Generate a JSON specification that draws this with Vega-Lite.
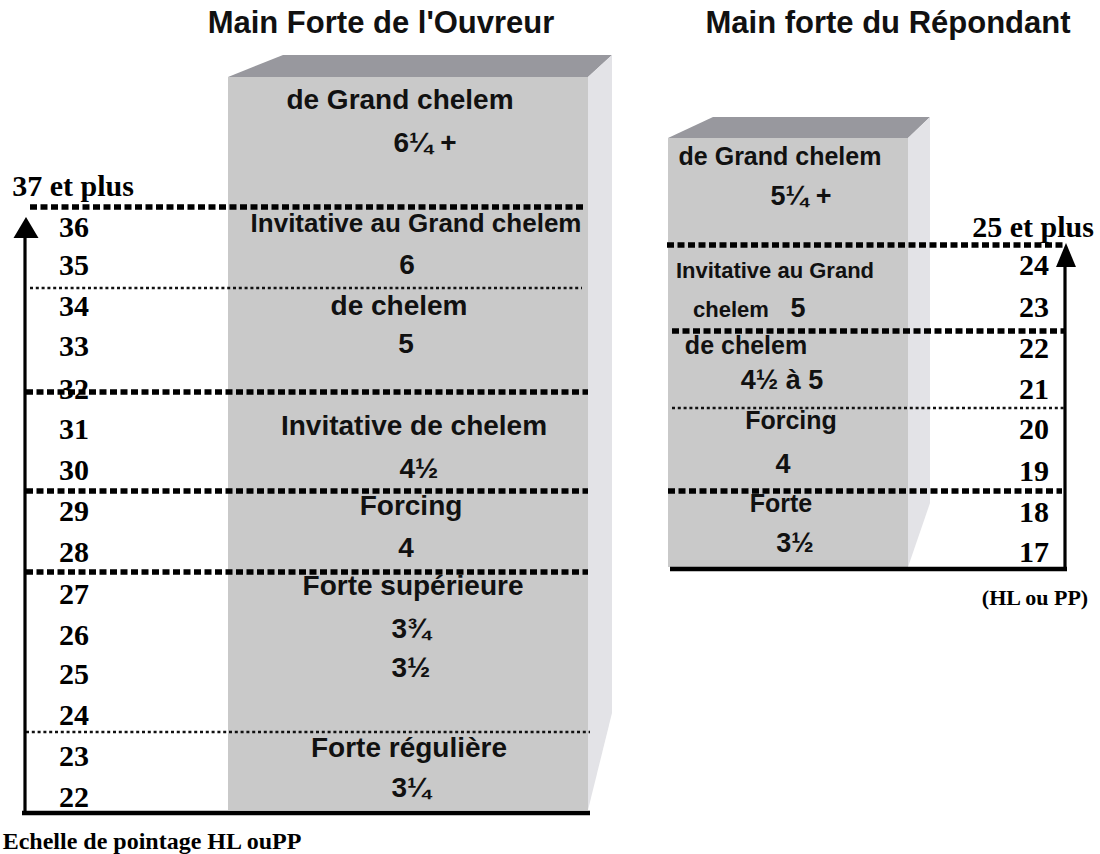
{
  "$schema": "https://vega.github.io/schema/vega-lite/v6.json",
  "width": 1100,
  "height": 854,
  "padding": 0,
  "autosize": {"type": "fit", "contains": "padding"},
  "background": "white",
  "config": {"view": {"stroke": null}},
  "datasets": {
    "faces": [
      {"box": "Ouvreur", "x": 228, "x2": 588, "y": 77, "y2": 810},
      {"box": "Répondant", "x": 668, "x2": 908, "y": 138, "y2": 567}
    ],
    "tops": [
      {"box": "Ouvreur", "x": 228, "y": 77, "y2": 77},
      {"box": "Ouvreur", "x": 283, "y": 55, "y2": 77},
      {"box": "Ouvreur", "x": 588, "y": 55, "y2": 77},
      {"box": "Ouvreur", "x": 612, "y": 55, "y2": 55},
      {"box": "Répondant", "x": 668, "y": 138, "y2": 138},
      {"box": "Répondant", "x": 713, "y": 117, "y2": 138},
      {"box": "Répondant", "x": 908, "y": 117, "y2": 138},
      {"box": "Répondant", "x": 930, "y": 117, "y2": 117}
    ],
    "sides": [
      {"box": "Ouvreur", "y": 55, "x": 612, "x2": 612},
      {"box": "Ouvreur", "y": 77, "x": 588, "x2": 612},
      {"box": "Ouvreur", "y": 713, "x": 588, "x2": 612},
      {"box": "Ouvreur", "y": 810, "x": 588, "x2": 588},
      {"box": "Répondant", "y": 117, "x": 930, "x2": 930},
      {"box": "Répondant", "y": 138, "x": 908, "x2": 930},
      {"box": "Répondant", "y": 503, "x": 908, "x2": 930},
      {"box": "Répondant", "y": 567, "x": 908, "x2": 908}
    ],
    "bounds": [
      {"kind": "major", "y": 207, "x": 30, "x2": 585},
      {"kind": "minor", "y": 288, "x": 30, "x2": 582},
      {"kind": "major", "y": 392, "x": 26, "x2": 588},
      {"kind": "major", "y": 491, "x": 26, "x2": 588},
      {"kind": "major", "y": 572, "x": 26, "x2": 588},
      {"kind": "minor", "y": 732, "x": 26, "x2": 590},
      {"kind": "major", "y": 245, "x": 667, "x2": 1063},
      {"kind": "major", "y": 331, "x": 672, "x2": 1065},
      {"kind": "minor", "y": 408, "x": 672, "x2": 1065},
      {"kind": "major", "y": 491, "x": 668, "x2": 1062}
    ],
    "axes": [
      {"kind": "vertical", "x": 25, "x2": 25, "y": 235, "y2": 813},
      {"kind": "base", "x": 22, "x2": 590, "y": 813, "y2": 813},
      {"kind": "vertical", "x": 1065, "x2": 1065, "y": 258, "y2": 569},
      {"kind": "base", "x": 670, "x2": 1067, "y": 569, "y2": 569}
    ],
    "arrows": [
      {"side": "left", "x": 26, "y": 227.5},
      {"side": "right", "x": 1066, "y": 255}
    ],
    "texts": [
      {"role": "title", "label": "Main Forte de l'Ouvreur", "x": 381, "y": 24},
      {"role": "title", "label": "Main forte du Répondant", "x": 888, "y": 24},
      {"role": "labelL", "label": "de Grand chelem", "x": 400, "y": 101},
      {"role": "labelL", "label": "6¼ +", "x": 425, "y": 144},
      {"role": "labelLSmall", "label": "Invitative au Grand chelem", "x": 416, "y": 224},
      {"role": "labelL", "label": "6", "x": 407, "y": 266},
      {"role": "labelL", "label": "de chelem", "x": 399, "y": 307},
      {"role": "labelL", "label": "5", "x": 406, "y": 345},
      {"role": "labelL", "label": "Invitative de chelem", "x": 414, "y": 427},
      {"role": "labelL", "label": "4½", "x": 419, "y": 470},
      {"role": "labelL", "label": "Forcing", "x": 411, "y": 507},
      {"role": "labelL", "label": "4", "x": 406, "y": 549},
      {"role": "labelL", "label": "Forte supérieure", "x": 413, "y": 587},
      {"role": "labelL", "label": "3¾", "x": 411, "y": 630},
      {"role": "labelL", "label": "3½", "x": 411, "y": 669},
      {"role": "labelL", "label": "Forte régulière", "x": 409, "y": 749},
      {"role": "labelL", "label": "3¼", "x": 411, "y": 789},
      {"role": "labelR", "label": "de Grand chelem", "x": 780, "y": 157},
      {"role": "valueR", "label": "5¼ +", "x": 801, "y": 197},
      {"role": "labelRSmall", "label": "Invitative au Grand", "x": 775, "y": 271},
      {"role": "labelRSmall", "label": "chelem", "x": 731, "y": 310},
      {"role": "valueR", "label": "5", "x": 798, "y": 309},
      {"role": "labelR", "label": "de chelem", "x": 746, "y": 346},
      {"role": "valueR", "label": "4½ à 5", "x": 782, "y": 381},
      {"role": "labelR", "label": "Forcing", "x": 791, "y": 421},
      {"role": "valueR", "label": "4", "x": 783, "y": 465},
      {"role": "labelR", "label": "Forte", "x": 781, "y": 504},
      {"role": "valueR", "label": "3½", "x": 795, "y": 544},
      {"role": "num", "label": "37 et plus", "x": 73, "y": 187},
      {"role": "num", "label": "36", "x": 74, "y": 228},
      {"role": "num", "label": "35", "x": 74, "y": 266},
      {"role": "num", "label": "34", "x": 74, "y": 307},
      {"role": "num", "label": "33", "x": 74, "y": 347},
      {"role": "num", "label": "32", "x": 74, "y": 390},
      {"role": "num", "label": "31", "x": 74, "y": 430},
      {"role": "num", "label": "30", "x": 74, "y": 471},
      {"role": "num", "label": "29", "x": 74, "y": 512},
      {"role": "num", "label": "28", "x": 74, "y": 553},
      {"role": "num", "label": "27", "x": 74, "y": 595},
      {"role": "num", "label": "26", "x": 74, "y": 636},
      {"role": "num", "label": "25", "x": 74, "y": 675},
      {"role": "num", "label": "24", "x": 74, "y": 716},
      {"role": "num", "label": "23", "x": 74, "y": 757},
      {"role": "num", "label": "22", "x": 74, "y": 798},
      {"role": "num", "label": "25 et plus", "x": 1033, "y": 228},
      {"role": "num", "label": "24", "x": 1034, "y": 266},
      {"role": "num", "label": "23", "x": 1034, "y": 308},
      {"role": "num", "label": "22", "x": 1034, "y": 349},
      {"role": "num", "label": "21", "x": 1034, "y": 390},
      {"role": "num", "label": "20", "x": 1034, "y": 430},
      {"role": "num", "label": "19", "x": 1034, "y": 472},
      {"role": "num", "label": "18", "x": 1034, "y": 513},
      {"role": "num", "label": "17", "x": 1034, "y": 553},
      {"role": "unit", "label": "(HL ou PP)", "x": 1035, "y": 598},
      {"role": "caption", "label": "Echelle de pointage HL ouPP", "x": 152, "y": 842}
    ]
  },
  "layer": [
    {
      "data": {"name": "faces"},
      "mark": {"type": "rect", "color": "#c9c9c9"},
      "encoding": {
        "x": {"field": "x", "type": "quantitative", "scale": {"domain": [0, 1100], "nice": false, "zero": false}, "axis": null},
        "x2": {"field": "x2"},
        "y": {"field": "y", "type": "quantitative", "scale": {"domain": [0, 854], "nice": false, "zero": false, "reverse": true}, "axis": null},
        "y2": {"field": "y2"}
      }
    },
    {
      "data": {"name": "tops"},
      "mark": {"type": "area", "color": "#98989e", "interpolate": "linear", "orient": "vertical"},
      "encoding": {
        "x": {"field": "x", "type": "quantitative", "scale": {"domain": [0, 1100], "nice": false, "zero": false}, "axis": null},
        "y": {"field": "y", "type": "quantitative", "scale": {"domain": [0, 854], "nice": false, "zero": false, "reverse": true}, "axis": null},
        "y2": {"field": "y2"},
        "detail": {"field": "box", "type": "nominal"}
      }
    },
    {
      "data": {"name": "sides"},
      "mark": {"type": "area", "color": "#e3e3e7", "interpolate": "linear", "orient": "horizontal"},
      "encoding": {
        "y": {"field": "y", "type": "quantitative", "scale": {"domain": [0, 854], "nice": false, "zero": false, "reverse": true}, "axis": null},
        "x": {"field": "x", "type": "quantitative", "scale": {"domain": [0, 1100], "nice": false, "zero": false}, "axis": null},
        "x2": {"field": "x2"},
        "detail": {"field": "box", "type": "nominal"}
      }
    },
    {
      "data": {"name": "bounds"},
      "transform": [{"filter": "datum.kind === 'major'"}],
      "mark": {"type": "rule", "color": "#000000", "strokeWidth": 5.5, "strokeDash": [7, 3.5]},
      "encoding": {
        "x": {"field": "x", "type": "quantitative", "scale": {"domain": [0, 1100], "nice": false, "zero": false}, "axis": null},
        "x2": {"field": "x2"},
        "y": {"field": "y", "type": "quantitative", "scale": {"domain": [0, 854], "nice": false, "zero": false, "reverse": true}, "axis": null}
      }
    },
    {
      "data": {"name": "bounds"},
      "transform": [{"filter": "datum.kind === 'minor'"}],
      "mark": {"type": "rule", "color": "#111111", "strokeWidth": 2.5, "strokeDash": [3, 2.8]},
      "encoding": {
        "x": {"field": "x", "type": "quantitative", "scale": {"domain": [0, 1100], "nice": false, "zero": false}, "axis": null},
        "x2": {"field": "x2"},
        "y": {"field": "y", "type": "quantitative", "scale": {"domain": [0, 854], "nice": false, "zero": false, "reverse": true}, "axis": null}
      }
    },
    {
      "data": {"name": "axes"},
      "transform": [{"filter": "datum.kind === 'vertical'"}],
      "mark": {"type": "rule", "color": "#000000", "strokeWidth": 3.2},
      "encoding": {
        "x": {"field": "x", "type": "quantitative", "scale": {"domain": [0, 1100], "nice": false, "zero": false}, "axis": null},
        "x2": {"field": "x2"},
        "y": {"field": "y", "type": "quantitative", "scale": {"domain": [0, 854], "nice": false, "zero": false, "reverse": true}, "axis": null},
        "y2": {"field": "y2"}
      }
    },
    {
      "data": {"name": "axes"},
      "transform": [{"filter": "datum.kind === 'base'"}],
      "mark": {"type": "rule", "color": "#000000", "strokeWidth": 4.5},
      "encoding": {
        "x": {"field": "x", "type": "quantitative", "scale": {"domain": [0, 1100], "nice": false, "zero": false}, "axis": null},
        "x2": {"field": "x2"},
        "y": {"field": "y", "type": "quantitative", "scale": {"domain": [0, 854], "nice": false, "zero": false, "reverse": true}, "axis": null},
        "y2": {"field": "y2"}
      }
    },
    {
      "data": {"name": "arrows"},
      "transform": [{"filter": "datum.side === 'left'"}],
      "mark": {"type": "point", "filled": true, "color": "#000000", "opacity": 1, "size": 625, "shape": "M0,-0.84L1,0.84L-1,0.84Z"},
      "encoding": {
        "x": {"field": "x", "type": "quantitative", "scale": {"domain": [0, 1100], "nice": false, "zero": false}, "axis": null},
        "y": {"field": "y", "type": "quantitative", "scale": {"domain": [0, 854], "nice": false, "zero": false, "reverse": true}, "axis": null}
      }
    },
    {
      "data": {"name": "arrows"},
      "transform": [{"filter": "datum.side === 'right'"}],
      "mark": {"type": "point", "filled": true, "color": "#000000", "opacity": 1, "size": 576, "shape": "M0,-1L0.83,1L-0.83,1Z"},
      "encoding": {
        "x": {"field": "x", "type": "quantitative", "scale": {"domain": [0, 1100], "nice": false, "zero": false}, "axis": null},
        "y": {"field": "y", "type": "quantitative", "scale": {"domain": [0, 854], "nice": false, "zero": false, "reverse": true}, "axis": null}
      }
    },
    {
      "data": {"name": "texts"},
      "transform": [{"filter": "datum.role === 'title'"}],
      "mark": {"type": "text", "font": "Liberation Sans", "fontWeight": "bold", "fontSize": 31, "align": "center", "baseline": "middle", "color": "#111111"},
      "encoding": {
        "x": {"field": "x", "type": "quantitative", "scale": {"domain": [0, 1100], "nice": false, "zero": false}, "axis": null},
        "y": {"field": "y", "type": "quantitative", "scale": {"domain": [0, 854], "nice": false, "zero": false, "reverse": true}, "axis": null},
        "text": {"field": "label", "type": "nominal"}
      }
    },
    {
      "data": {"name": "texts"},
      "transform": [{"filter": "datum.role === 'labelL'"}],
      "mark": {"type": "text", "font": "Liberation Sans", "fontWeight": "bold", "fontSize": 28, "align": "center", "baseline": "middle", "color": "#111111"},
      "encoding": {
        "x": {"field": "x", "type": "quantitative", "scale": {"domain": [0, 1100], "nice": false, "zero": false}, "axis": null},
        "y": {"field": "y", "type": "quantitative", "scale": {"domain": [0, 854], "nice": false, "zero": false, "reverse": true}, "axis": null},
        "text": {"field": "label", "type": "nominal"}
      }
    },
    {
      "data": {"name": "texts"},
      "transform": [{"filter": "datum.role === 'labelLSmall'"}],
      "mark": {"type": "text", "font": "Liberation Sans", "fontWeight": "bold", "fontSize": 26, "align": "center", "baseline": "middle", "color": "#111111"},
      "encoding": {
        "x": {"field": "x", "type": "quantitative", "scale": {"domain": [0, 1100], "nice": false, "zero": false}, "axis": null},
        "y": {"field": "y", "type": "quantitative", "scale": {"domain": [0, 854], "nice": false, "zero": false, "reverse": true}, "axis": null},
        "text": {"field": "label", "type": "nominal"}
      }
    },
    {
      "data": {"name": "texts"},
      "transform": [{"filter": "datum.role === 'labelR'"}],
      "mark": {"type": "text", "font": "Liberation Sans", "fontWeight": "bold", "fontSize": 25, "align": "center", "baseline": "middle", "color": "#111111"},
      "encoding": {
        "x": {"field": "x", "type": "quantitative", "scale": {"domain": [0, 1100], "nice": false, "zero": false}, "axis": null},
        "y": {"field": "y", "type": "quantitative", "scale": {"domain": [0, 854], "nice": false, "zero": false, "reverse": true}, "axis": null},
        "text": {"field": "label", "type": "nominal"}
      }
    },
    {
      "data": {"name": "texts"},
      "transform": [{"filter": "datum.role === 'labelRSmall'"}],
      "mark": {"type": "text", "font": "Liberation Sans", "fontWeight": "bold", "fontSize": 22, "align": "center", "baseline": "middle", "color": "#111111"},
      "encoding": {
        "x": {"field": "x", "type": "quantitative", "scale": {"domain": [0, 1100], "nice": false, "zero": false}, "axis": null},
        "y": {"field": "y", "type": "quantitative", "scale": {"domain": [0, 854], "nice": false, "zero": false, "reverse": true}, "axis": null},
        "text": {"field": "label", "type": "nominal"}
      }
    },
    {
      "data": {"name": "texts"},
      "transform": [{"filter": "datum.role === 'valueR'"}],
      "mark": {"type": "text", "font": "Liberation Sans", "fontWeight": "bold", "fontSize": 27, "align": "center", "baseline": "middle", "color": "#111111"},
      "encoding": {
        "x": {"field": "x", "type": "quantitative", "scale": {"domain": [0, 1100], "nice": false, "zero": false}, "axis": null},
        "y": {"field": "y", "type": "quantitative", "scale": {"domain": [0, 854], "nice": false, "zero": false, "reverse": true}, "axis": null},
        "text": {"field": "label", "type": "nominal"}
      }
    },
    {
      "data": {"name": "texts"},
      "transform": [{"filter": "datum.role === 'num'"}],
      "mark": {"type": "text", "font": "Liberation Serif", "fontWeight": "bold", "fontSize": 30, "align": "center", "baseline": "middle", "color": "#000000"},
      "encoding": {
        "x": {"field": "x", "type": "quantitative", "scale": {"domain": [0, 1100], "nice": false, "zero": false}, "axis": null},
        "y": {"field": "y", "type": "quantitative", "scale": {"domain": [0, 854], "nice": false, "zero": false, "reverse": true}, "axis": null},
        "text": {"field": "label", "type": "nominal"}
      }
    },
    {
      "data": {"name": "texts"},
      "transform": [{"filter": "datum.role === 'unit'"}],
      "mark": {"type": "text", "font": "Liberation Serif", "fontWeight": "bold", "fontSize": 22, "align": "center", "baseline": "middle", "color": "#000000"},
      "encoding": {
        "x": {"field": "x", "type": "quantitative", "scale": {"domain": [0, 1100], "nice": false, "zero": false}, "axis": null},
        "y": {"field": "y", "type": "quantitative", "scale": {"domain": [0, 854], "nice": false, "zero": false, "reverse": true}, "axis": null},
        "text": {"field": "label", "type": "nominal"}
      }
    },
    {
      "data": {"name": "texts"},
      "transform": [{"filter": "datum.role === 'caption'"}],
      "mark": {"type": "text", "font": "Liberation Serif", "fontWeight": "bold", "fontSize": 24, "align": "center", "baseline": "middle", "color": "#000000"},
      "encoding": {
        "x": {"field": "x", "type": "quantitative", "scale": {"domain": [0, 1100], "nice": false, "zero": false}, "axis": null},
        "y": {"field": "y", "type": "quantitative", "scale": {"domain": [0, 854], "nice": false, "zero": false, "reverse": true}, "axis": null},
        "text": {"field": "label", "type": "nominal"}
      }
    }
  ]
}
